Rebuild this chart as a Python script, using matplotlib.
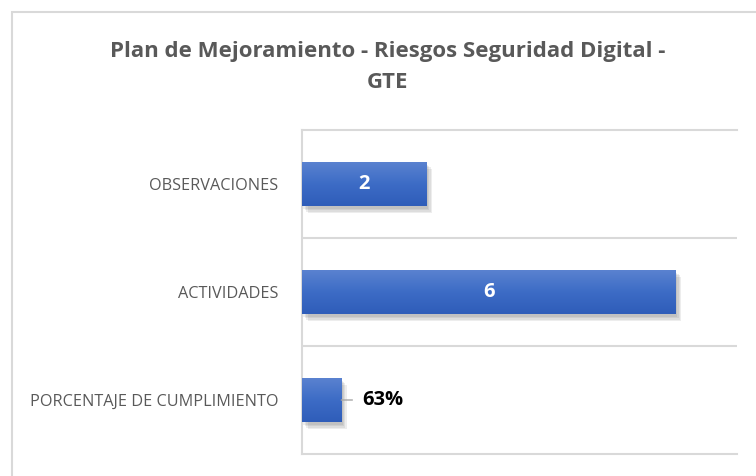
import numpy as np
import matplotlib.pyplot as plt
import matplotlib.patheffects as pe
from matplotlib.patches import Rectangle
from matplotlib.colors import LinearSegmentedColormap

plt.rcParams['font.family'] = ['Open Sans', 'DejaVu Sans']

categorias = ["OBSERVACIONES", "ACTIVIDADES", "PORCENTAJE DE CUMPLIMIENTO"]
valores = [2, 6, 0.63]
etiquetas = ["2", "6", "63%"]

fig = plt.figure(figsize=(7.56, 4.76), dpi=100)
W, H = 756, 476

# marco del gráfico (recortado a la derecha y abajo)
fig.patches.append(Rectangle((12 / W, -0.1), 1.2, (H - 12) / H + 0.1,
                             transform=fig.transFigure, fill=False,
                             edgecolor="#d9d9d9", lw=1.5))

ax = fig.add_axes([302 / W, 1 - 454 / H, (737 - 302) / W, (454 - 130) / H])

y = np.arange(len(categorias))
alto = 0.41
# sombra difusa: varias sombras suaves superpuestas
sombras = [pe.SimplePatchShadow(offset=(d, -d - 1), alpha=0.09, shadow_rgbFace="#404040")
           for d in (1, 2, 3, 4)]
barras = ax.barh(y, valores, height=alto, color="#4472c4", zorder=2,
                 path_effects=sombras + [pe.Normal()])

# degradado vertical dentro de cada barra
grad = np.linspace(0, 1, 64).reshape(-1, 1)
cmap = LinearSegmentedColormap.from_list("azul", ["#5b83d0", "#3d6cc6", "#2f5db9"])
for b in barras:
    x0, y0 = b.get_x(), b.get_y()
    im = ax.imshow(grad, cmap=cmap, aspect="auto", zorder=3,
                   extent=(x0, x0 + b.get_width(), y0 + b.get_height(), y0))
    im.set_clip_path(b)

ax.set_xlim(0, 6.98)
ax.set_ylim(2.5, -0.5)

for i, (v, t) in enumerate(zip(valores, etiquetas)):
    if v > 1:
        ax.text(v / 2, i, t, color="white", fontsize=14.5, fontweight="bold",
                ha="center", va="center", zorder=4)
    else:
        ax.annotate(t, xy=(v, i), xytext=(15, 0), textcoords="offset points",
                    fontsize=14.5, fontweight="bold", color="black",
                    ha="left", va="center",
                    arrowprops=dict(arrowstyle="-", color="#a6a6a6", lw=1,
                                    shrinkA=5, shrinkB=0))

ax.set_yticks(y)
ax.set_yticklabels(categorias, fontsize=11.7, color="#595959")
ax.tick_params(axis="y", length=0, pad=17)
ax.set_xticks([])
ax.set_yticks([0.5, 1.5], minor=True)
ax.tick_params(axis="y", which="minor", length=0)
ax.grid(True, axis="y", which="minor", color="#d9d9d9", lw=1.5)
for s in ["top", "bottom", "left"]:
    ax.spines[s].set_color("#d9d9d9")
    ax.spines[s].set_linewidth(1.5)
ax.spines["right"].set_visible(False)

fig.text(388 / W, 1 - 41 / H,
         "Plan de Mejoramiento - Riesgos Seguridad Digital -\nGTE",
         ha="center", va="top", fontsize=16, fontweight="bold",
         color="#595959", linespacing=1.62)

fig.savefig("out.png", dpi=100)
